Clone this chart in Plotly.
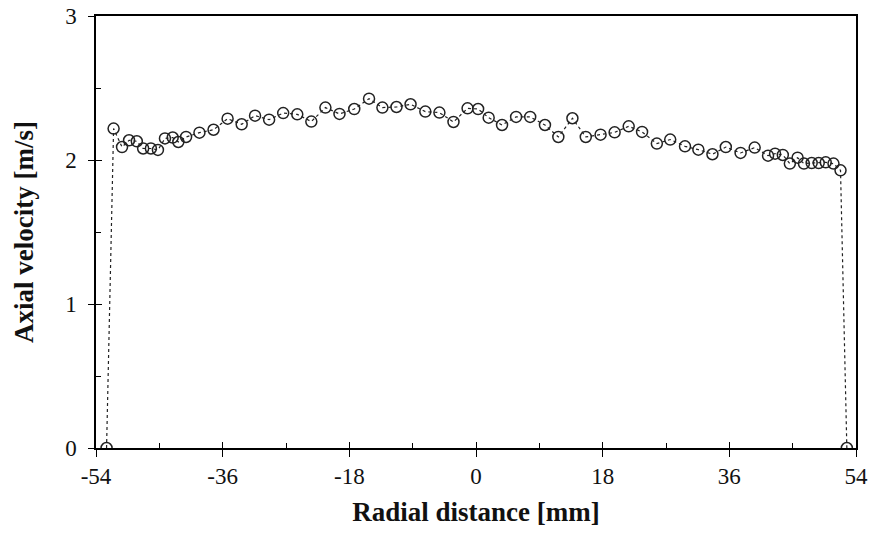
import plotly.graph_objects as go

radial_mm = [-52.5, -51.5, -50.3, -49.3, -48.2, -47.3, -46.2, -45.2, -44.2, -43.1,
             -42.3, -41.2, -39.3, -37.3, -35.3, -33.3, -31.4, -29.4, -27.4, -25.4,
             -23.4, -21.4, -19.4, -17.3, -15.2, -13.3, -11.3, -9.3, -7.2, -5.2,
             -3.2, -1.2, 0.3, 1.8, 3.7, 5.7, 7.7, 9.8, 11.7, 13.7,
             15.6, 17.7, 19.7, 21.7, 23.6, 25.7, 27.6, 29.7, 31.6, 33.6,
             35.5, 37.6, 39.6, 41.5, 42.5, 43.6, 44.6, 45.7, 46.6, 47.7,
             48.7, 49.7, 50.8, 51.8, 52.7]
axial_velocity = [0, 2.218, 2.09, 2.137, 2.13, 2.08, 2.08, 2.07, 2.15, 2.156,
                  2.125, 2.16, 2.19, 2.21, 2.287, 2.248, 2.308, 2.28, 2.326, 2.317,
                  2.267, 2.364, 2.32, 2.354, 2.426, 2.364, 2.368, 2.387, 2.336, 2.329,
                  2.264, 2.359, 2.354, 2.294, 2.243, 2.299, 2.299, 2.243, 2.16, 2.29,
                  2.16, 2.176, 2.192, 2.234, 2.195, 2.114, 2.142, 2.095, 2.072, 2.04,
                  2.09, 2.049, 2.086, 2.03, 2.044, 2.035, 1.975, 2.016, 1.975, 1.979,
                  1.979, 1.984, 1.975, 1.928, 0]

x_tickvals = [-54, -36, -18, 0, 18, 36, 54]
x_ticktext = ["-54", "-36", "-18", "0", "18", "36", "54"]
y_tickvals = [0, 1, 2, 3]
y_ticktext = ["0", "1", "2", "3"]

FONT = "Liberation Serif, Times New Roman, serif"

fig = go.Figure()
fig.add_trace(go.Scatter(
    x=radial_mm, y=axial_velocity, mode="lines+markers",
    line=dict(color="#222222", width=1.2, dash="3px,3px"),
    marker=dict(symbol="circle-open", size=11, color="#222222", line=dict(width=1.5)),
    showlegend=False, hoverinfo="x+y",
))
# empty trace to anchor the overlay axes used for inner tick marks
fig.add_trace(go.Scatter(x=[], y=[], xaxis="x2", yaxis="y2", showlegend=False))

fig.update_layout(
    width=875, height=544,
    margin=dict(l=96, r=19, t=16, b=96),
    paper_bgcolor="white", plot_bgcolor="white",
    font=dict(family=FONT, color="#111111", size=23),
    xaxis=dict(
        range=[-54, 54], tickvals=x_tickvals, ticktext=x_ticktext,
        ticks="outside", ticklen=7, tickwidth=1.3, tickcolor="black",
        showline=True, linecolor="black", linewidth=1.5, mirror=True,
        showgrid=False, zeroline=False, automargin=False,
        ticklabeloverflow="allow",
        tickfont=dict(family=FONT, size=23, color="#111111"),
        title=dict(text="<b>Radial distance [mm]</b>", standoff=14,
                   font=dict(family=FONT, size=27, color="#111111")),
    ),
    yaxis=dict(
        range=[0, 3], tickvals=y_tickvals, ticktext=y_ticktext,
        ticks="outside", ticklen=6, tickwidth=1.3, tickcolor="black",
        showline=True, linecolor="black", linewidth=1.5, mirror=True,
        showgrid=False, zeroline=False, automargin=False,
        ticklabelstandoff=7, ticklabeloverflow="allow",
        tickfont=dict(family=FONT, size=23, color="#111111"),
        title=dict(text="<b>Axial velocity [m/s]</b>", standoff=24,
                   font=dict(family=FONT, size=27, color="#111111")),
    ),
    xaxis2=dict(
        overlaying="x", anchor="y", range=[-54, 54], tickvals=x_tickvals,
        ticks="inside", ticklen=6, tickwidth=1.3, tickcolor="black",
        minor=dict(dtick=9, tick0=0, ticks="inside", ticklen=5, tickwidth=1, tickcolor="black"),
        showticklabels=False, showline=False, showgrid=False, zeroline=False,
        automargin=False,
    ),
    yaxis2=dict(
        overlaying="y", anchor="x", range=[0, 3], tickvals=y_tickvals,
        ticks="inside", ticklen=6, tickwidth=1.3, tickcolor="black",
        minor=dict(dtick=0.5, tick0=0, ticks="inside", ticklen=5, tickwidth=1, tickcolor="black"),
        showticklabels=False, showline=False, showgrid=False, zeroline=False,
        automargin=False,
    ),
)

fig.write_html("out.html", config={"displayModeBar": False},
               post_script="document.body.style.margin='0';")
